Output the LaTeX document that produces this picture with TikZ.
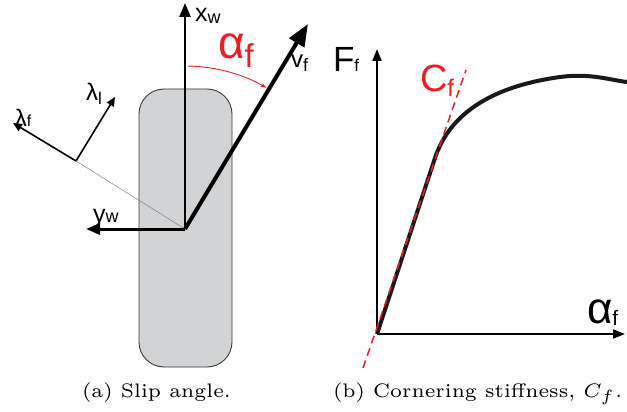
\documentclass[tikz,border=0pt]{standalone}
\usepackage{fontspec}
\newfontfamily\lab{Liberation Sans}
\usetikzlibrary{arrows.meta}
\definecolor{myred}{HTML}{ED1C24}
\definecolor{tirefill}{HTML}{D1D3D4}
\definecolor{tireedge}{HTML}{3A3A3A}
\newcommand\mylab[5]{\lab\fontsize{#1}{#1}\selectfont #2\raisebox{#5}{\fontsize{#3}{#3}\selectfont #4}}
\tikzset{
  lbl/.style={anchor=base west, inner sep=0pt, outer sep=0pt},
  captext/.style={anchor=base west, inner sep=0pt, outer sep=0pt, scale=3.26, font=\fontsize{6}{7}\selectfont},
}
\begin{document}
\begin{tikzpicture}[x=1pt,y=-1pt]
\useasboundingbox (0,0) rectangle (627,412);
% ---------- (a) slip angle ----------
\draw[fill=tirefill, draw=tireedge, line width=0.9pt, rounded corners=25pt] (139,89) rectangle (232,367);
\coordinate (O) at (185,229);
\coordinate (xw) at (185,3);
\coordinate (yw) at (86,229);
\coordinate (vf) at (308,24);
\coordinate (J) at (76,161);
\coordinate (lf) at (13,123);
\coordinate (ll) at (115,97);
\draw[gray, line width=0.5pt] (O) -- (J);
\draw[line width=1.6pt, -{Triangle[length=9pt, width=8pt]}] (J) -- (lf);
\draw[line width=1.6pt, -{Triangle[length=9pt, width=8pt]}] (J) -- (ll);
\draw[line width=2.5pt, -{Triangle[length=14pt, width=11pt]}] (O) -- (xw);
\draw[line width=3pt, -{Triangle[length=14pt, width=11pt]}] (O) -- (yw);
\draw[line width=4pt, -{Triangle[length=22pt, width=17pt]}] (O) -- (vf);
\draw[myred, line width=0.9pt, -{Stealth[length=6pt, width=4pt]}] ([shift={(-89:163)}]O) arc[start angle=-89, end angle=-60, radius=163];
\node[lbl] (lxw) at (195,22) {\mylab{25}{x}{18}{w}{-2pt}};
\node[lbl] (lyw) at (93,222) {\mylab{25}{y}{18}{w}{0pt}};
\node[lbl] (lvf) at (291,68) {\mylab{24}{v}{18}{f}{-4pt}};
\node[lbl, text=myred, text height=26pt] (laf) at (218,59) {\mylab{46}{α}{33}{f}{-9pt}};
\node[lbl] (llf) at (15,127) {\mylab{24}{λ}{16}{f}{0pt}};
\node[lbl] (lll) at (86,100) {\mylab{24}{λ}{17}{l}{-5pt}};
% ---------- (b) cornering stiffness ----------
\coordinate (P) at (377,334);
\coordinate (Fy) at (377,49);
\coordinate (Ax) at (625,334);
\coordinate (d1) at (363,368);
\coordinate (d2) at (466,70);
\coordinate (K) at (435,158);
\coordinate (M) at (560,77);
\coordinate (E) at (627,82);
\draw[line width=2pt, -{Triangle[length=12pt, width=9pt]}] (P) -- (Fy);
\draw[line width=2pt, -{Triangle[length=12pt, width=9pt]}] (P) -- (Ax);
\draw[line width=4pt, line join=round, black!90] (P) -- (K) .. controls (447,122) and (480,88) .. (M) .. controls (590,73) and (610,80) .. (E);
\draw[myred, line width=1.5pt, dash pattern=on 8pt off 5pt] (d1) -- (d2);
\node[lbl] (lF) at (333,72) {\mylab{35}{F}{17}{f}{0pt}};
\node[lbl, text=myred] (lC) at (420,92) {\mylab{38}{C}{24}{f}{-5pt}};
\node[lbl] (laf2) at (587,323) {\mylab{44}{α}{21}{f}{-2pt}};
% ---------- captions ----------
\node[captext] (capa) at (82,397) {(a) Slip angle.};
\node[captext] (capb) at (333,397) {(b) Cornering stiffness, $C_f$.};
\end{tikzpicture}
\end{document}
